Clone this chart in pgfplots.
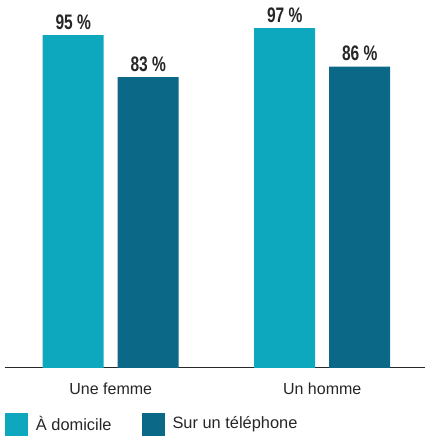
\documentclass[border=0pt]{standalone}
\usepackage{fontspec}
\setmainfont{Liberation Sans}
\newfontfamily\condbold[FakeStretch=0.74]{Liberation Sans}
\usepackage{pgfplots}
\pgfplotsset{compat=1.18}
\definecolor{cLight}{RGB}{13,168,190}
\definecolor{cDark}{RGB}{11,104,134}
\definecolor{axisgray}{RGB}{40,40,40}
\begin{document}
\begin{tikzpicture}
\begin{axis}[
  scale only axis,
  width=210pt, height=184pt,
  xmin=-0.5, xmax=1.485,
  ymin=0, ymax=105,
  clip=false,
  ybar,
  axis x line=bottom,
  axis y line=none,
  x axis line style={-, draw=axisgray, line width=0.6pt},
  xtick={0,1},
  xticklabels={Une femme, Un homme},
  major tick length=0pt,
  xticklabel style={font=\fontsize{8}{9}\selectfont, text=black!85, anchor=base, yshift=-13.5pt, inner sep=0pt},
  ytick=\empty,
  bar width=0.2884,
  /pgf/number format/assume math mode=true,
  nodes near coords={\pgfmathprintnumber{\pgfplotspointmeta}~\%},
  every node near coord/.append style={font=\condbold\bfseries\fontsize{10.5}{12}\selectfont, text=black!85, anchor=base, inner sep=0pt, yshift=3pt},
  legend columns=2,
  legend style={draw=none, at={(0,0)}, anchor=north west, yshift=-22pt, xshift=0pt, inner sep=0pt, outer sep=0pt,
     font=\fontsize{8.2}{9}\selectfont, text=black!85,
     /tikz/every even column/.append style={column sep=13pt}},
  legend image code/.code={\fill[#1] (0pt,-5.75pt) rectangle (11.5pt,5.75pt);},
]
\addplot[fill=cLight, draw=none, bar shift=-0.1773] coordinates {(0,95) (1,97)};
\addlegendentry{\hspace{2pt}À domicile}
\addplot[fill=cDark, draw=none, bar shift=0.1773] coordinates {(0,83) (1,86)};
\addlegendentry{\hspace{2pt}Sur un téléphone}
\end{axis}
\path (current axis.south west) ++(-2.5pt,-34.5pt) rectangle (current axis.north east);
\end{tikzpicture}
\end{document}
